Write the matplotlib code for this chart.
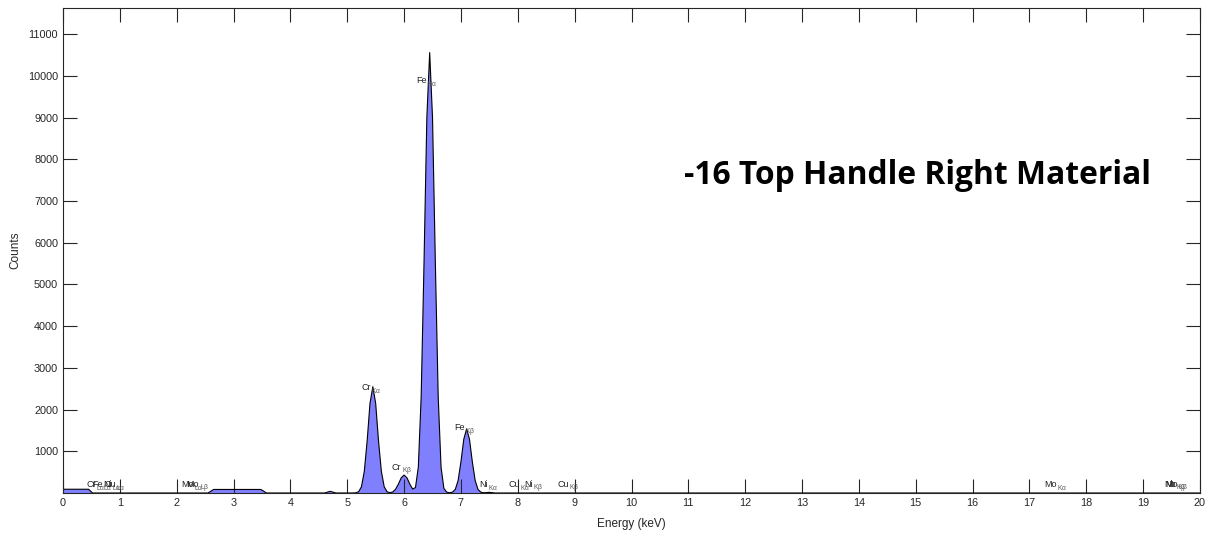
import matplotlib
matplotlib.use('Agg')
import matplotlib.pyplot as plt

# Spectrum (energy in keV, counts)
energy = [0.00, 0.45, 0.52, 2.55, 2.65, 3.48, 3.58, 4.60, 4.70, 4.80,
          5.10, 5.15, 5.20, 5.25, 5.30, 5.35, 5.40, 5.45, 5.50, 5.55,
          5.60, 5.65, 5.70, 5.75, 5.80, 5.85, 5.90, 5.95, 6.00, 6.05,
          6.10, 6.15, 6.20, 6.25, 6.30, 6.35, 6.40, 6.45, 6.50, 6.55,
          6.60, 6.65, 6.70, 6.75, 6.80, 6.85, 6.90, 6.95, 7.00, 7.05,
          7.10, 7.15, 7.20, 7.25, 7.30, 7.35, 7.40, 7.50, 7.60, 20.00]
counts = [90, 90, 0, 0, 85, 85, 0, 0, 40, 0,
          0, 4, 30, 150, 520, 1250, 2150, 2550, 2150, 1250,
          520, 150, 30, 8, 25, 90, 215, 365, 430, 365,
          215, 95, 130, 620, 2300, 5500, 9000, 10560, 9000, 5500,
          2300, 620, 110, 20, 6, 20, 85, 300, 750, 1290,
          1540, 1290, 750, 300, 85, 20, 6, 15, 0, 0]

# Peak labels: element, line, energy (keV), label height (counts)
lbl_elem = ['Cr', 'Fe', 'Ni', 'Cu', 'Mo', 'Mo', 'Cr', 'Cr', 'Fe', 'Fe',
            'Ni', 'Cu', 'Ni', 'Cu', 'Mo', 'Nb', 'Mo']
lbl_line = [r'L$\alpha$', r'L$\alpha$', r'L$\alpha$', r'L$\alpha$', r'L$\alpha$', r'L$\beta$',
            r'K$\alpha$', r'K$\beta$', r'K$\alpha$', r'K$\beta$',
            r'K$\alpha$', r'K$\alpha$', r'K$\beta$', r'K$\beta$', r'K$\alpha$',
            r'K$\beta$', r'K$\beta$']
lbl_e = [0.573, 0.705, 0.851, 0.930, 2.293, 2.394, 5.41, 5.95, 6.40, 7.06,
         7.47, 8.04, 8.26, 8.90, 17.48, 19.57, 19.61]
lbl_y = [215, 215, 215, 215, 215, 215, 2540, 620, 9900, 1560,
         215, 215, 215, 215, 215, 215, 215]

xticks = list(range(0, 21))
yticks = list(range(1000, 12000, 1000))

plt.rcParams['font.family'] = ['Liberation Sans', 'DejaVu Sans']
plt.rcParams['mathtext.fontset'] = 'custom'
plt.rcParams['mathtext.rm'] = 'Liberation Sans'
plt.rcParams['mathtext.it'] = 'Liberation Sans'

fig = plt.figure(figsize=(12.07, 5.34), dpi=100)
ax = fig.add_axes([63/1207, 41/534, 1137/1207, 485/534])

ax.fill_between(energy, counts, 0, facecolor='#8080ff', edgecolor='none')
ax.plot(energy, counts, color='black', linewidth=0.8)

for el, ln, e, y in zip(lbl_elem, lbl_line, lbl_e, lbl_y):
    ax.text(e, y, el, ha='right', va='center', fontsize=6.5, color='#222222')
    ax.annotate(ln, (e, y), xytext=(0.3, -2.5), textcoords='offset points',
                ha='left', va='center', fontsize=4.8, color='#555555')

ax.set_xlim(0, 20)
ax.set_ylim(0, 11630)
ax.set_xticks(xticks)
ax.set_yticks(yticks)
ax.tick_params(direction='in', length=10, width=0.8, top=True, right=True,
               labelsize=7.8, colors='#262626')
for s in ax.spines.values():
    s.set_color('#262626')
    s.set_linewidth(0.8)

ax.set_xlabel('Energy (keV)', fontsize=8.5, color='#262626', labelpad=7)
ax.set_ylabel('Counts', fontsize=8.5, color='#262626', labelpad=4.5)

fig.text(684/1207, 1 - 175/534, '-16 Top Handle Right Material',
         fontsize=22.9, fontweight='bold', family='Open Sans', va='center', ha='left')

fig.savefig('out.png', dpi=100)
